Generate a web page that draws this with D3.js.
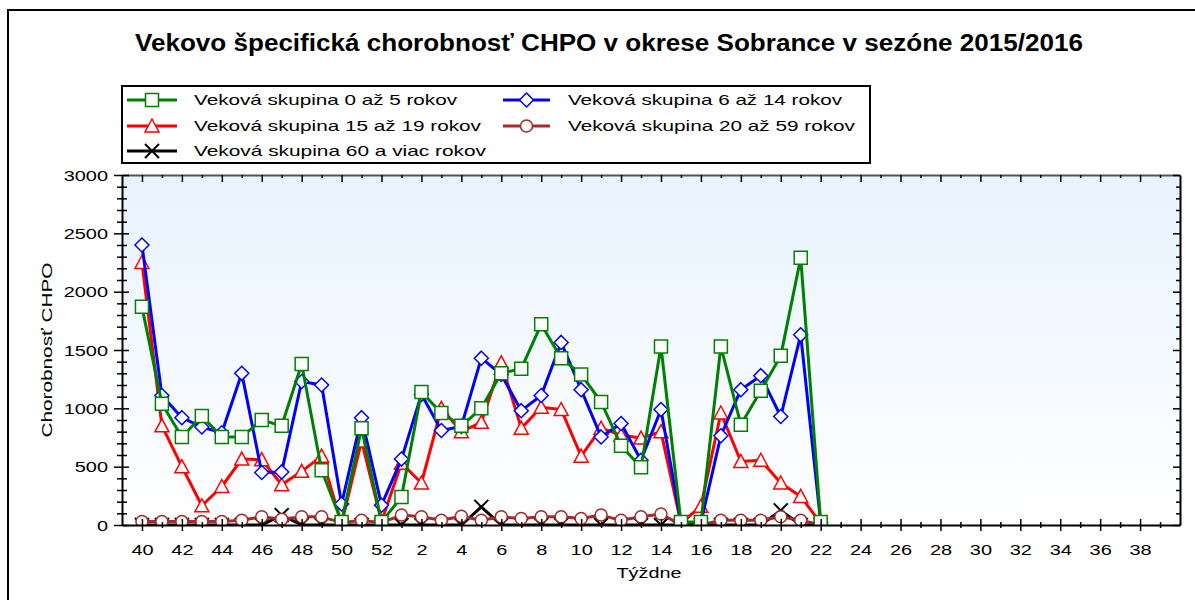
<!DOCTYPE html>
<html><head><meta charset="utf-8">
<script src="https://cdn.jsdelivr.net/npm/d3@7"></script>
<style>
body{margin:0;background:#fff}
svg{display:block}
text{font-family:"Liberation Sans",Arial,sans-serif;fill:#000}
</style></head><body>
<svg id="c" width="1195" height="600"></svg>
<script>
// ---- data ----
const weeks = [40,41,42,43,44,45,46,47,48,49,50,51,52,1,2,3,4,5,6,7,8,9,10,11,12,13,14,15,16,17,18,19,20,21,22,23,24,25,26,27,28,29,30,31,32,33,34,35,36,37,38,39];
const seriesNames = ["Veková skupina 0 až 5 rokov","Veková skupina 6 až 14 rokov","Veková skupina 15 až 19 rokov","Veková skupina 20 až 59 rokov","Veková skupina 60 a viac rokov"];
const age0_5   = [1870,1040,755,935,755,755,900,850,1380,470,25,830,25,240,1140,960,850,1000,1300,1340,1720,1430,1290,1055,680,495,1530,25,25,1530,860,1150,1450,2290,25];
const age6_14  = [2400,1110,920,840,790,1300,450,455,1230,1200,180,920,170,565,1120,810,845,1430,1290,980,1110,1565,1160,755,870,555,990,20,20,765,1160,1280,930,1630,20];
const age15_19 = [2250,850,500,165,330,565,560,345,460,590,10,720,30,530,360,1000,800,880,1390,830,1010,990,590,830,770,745,800,15,160,960,545,555,360,245,15];
const age20_59 = [30,30,30,30,30,40,70,50,70,70,20,40,20,85,70,40,75,40,70,55,70,70,55,85,40,70,95,0,0,40,40,40,70,40,0];
const age60    = [0,0,0,0,0,0,0,85,0,0,0,0,0,0,0,0,0,155,0,0,0,0,0,0,0,0,0,0,0,0,0,0,125,0,0];
const yTicks = [0,500,1000,1500,2000,2500,3000];
const titleText = "Vekovo špecifická chorobnosť CHPO v okrese Sobrance v sezóne 2015/2016";
const yTitle = "Chorobnosť CHPO";
const xTitle = "Týždne";

// ---- layout ----
const svg = d3.select("#c");
const L=122, R=1180, T=175, B=525;
const x = d3.scaleLinear().domain([-1,52]).range([L,R]);
const y = d3.scaleLinear().domain([0,3000]).range([B,T]);
const SX = 1.33;

// frame
svg.append("path").attr("d",`M8,600 V10 H1195`).attr("fill","none").attr("stroke","#000").attr("stroke-width",2);

// title
svg.append("text").attr("x",609).attr("y",51).attr("text-anchor","middle")
  .style("font-size","23px").style("font-weight","bold")
  .attr("textLength",948).attr("lengthAdjust","spacingAndGlyphs").text(titleText);

// plot background
const defs = svg.append("defs");
const gr = defs.append("linearGradient").attr("id","bg").attr("x1",0).attr("y1",0).attr("x2",0).attr("y2",1);
gr.append("stop").attr("offset","0%").attr("stop-color","#e8f3ff");
gr.append("stop").attr("offset","100%").attr("stop-color","#ffffff");
defs.append("clipPath").attr("id","plot").append("rect").attr("x",L).attr("y",T).attr("width",R-L).attr("height",B-T);
svg.append("rect").attr("x",L).attr("y",T).attr("width",R-L).attr("height",B-T).attr("fill","url(#bg)");

// markers
const mk = {
  square: "M-6.5,-6.5H6.5V6.5H-6.5Z",
  diamond: "M0,-7L7,0L0,7L-7,0Z",
  triangle: "M0,-7L7,6H-7Z",
  circle: "M-6,0A6,6 0 1,0 6,0A6,6 0 1,0 -6,0Z",
  x: "M-7,-7L7,7M-7,7L7,-7"
};
const series = [
  {name:seriesNames[0], data:age0_5,   color:"#008000", m:"square"},
  {name:seriesNames[1], data:age6_14,  color:"#0000ff", m:"diamond"},
  {name:seriesNames[2], data:age15_19, color:"#ff0000", m:"triangle"},
  {name:seriesNames[3], data:age20_59, color:"#a52a2a", m:"circle"},
  {name:seriesNames[4], data:age60,    color:"#000000", m:"x"}
];
const line = d3.line().x((d,i)=>x(i)).y(d=>y(d));
const plotG = svg.append("g").attr("clip-path","url(#plot)");
[4,3,2,1,0].forEach(k=>{
  const s = series[k];
  const g = plotG.append("g");
  g.append("path").attr("d",line(s.data)).attr("fill","none").attr("stroke",s.color).attr("stroke-width",3).attr("stroke-linejoin","round");
  g.selectAll("path.m").data(s.data).join("path").attr("class","m")
    .attr("transform",(d,i)=>`translate(${x(i)},${y(d)})`).attr("d",mk[s.m])
    .attr("fill", s.m==="x"?"none":"#fff").attr("stroke",s.color).attr("stroke-width",s.m==="x"?2:1.5);
});

// axes
const idx = d3.range(0,52);
const gx = svg.append("g").attr("transform",`translate(0,${B})`)
  .call(d3.axisBottom(x).tickValues(idx).tickSizeOuter(0).tickFormat(i=> i%2===0 ? weeks[i] : ""));
gx.selectAll(".tick line").attr("y1",i=>i%2===0?-6:-3).attr("y2",i=>i%2===0?6:3).attr("stroke-width",1.5);
gx.selectAll(".tick text").attr("y",0).attr("dy",0).attr("transform",`translate(0,30) scale(${SX},1)`).style("font-size","15px");
gx.select(".domain").attr("stroke-width",2);

const gt = svg.append("g").attr("transform",`translate(0,${T})`)
  .call(d3.axisBottom(x).tickValues(idx).tickSizeOuter(0).tickFormat(""));
gt.selectAll(".tick line").attr("y2",i=>i%2===0?7:3).attr("stroke-width",1.5);
gt.select(".domain").attr("stroke","#555").attr("stroke-width",2);

const yMinor = d3.range(0,3001,100);
const gy = svg.append("g").attr("transform",`translate(${L},0)`)
  .call(d3.axisLeft(y).tickValues(yMinor).tickSizeOuter(0).tickFormat(v=> yTicks.includes(v) ? v : ""));
gy.selectAll(".tick line").attr("x1",v=>v%500===0?-8:-5).attr("x2",v=>v%500===0?7:5).attr("stroke-width",1.5);
gy.selectAll(".tick text").attr("x",0).attr("dy","0.35em").attr("transform",`translate(-14,0) scale(${SX},1)`).style("font-size","15px");
gy.select(".domain").attr("stroke-width",2);

const gr2 = svg.append("g").attr("transform",`translate(${R},0)`)
  .call(d3.axisLeft(y).tickValues(yMinor).tickSizeOuter(0).tickFormat(""));
gr2.selectAll(".tick line").attr("x2",v=>v%500===0?-7:-4).attr("stroke-width",1.5);
gr2.select(".domain").attr("stroke-width",2);

// axis titles
svg.append("text").attr("transform","translate(52,350) rotate(-90)").attr("text-anchor","middle")
  .style("font-size","15px").attr("textLength",175).attr("lengthAdjust","spacingAndGlyphs").text(yTitle);
svg.append("text").attr("x",649).attr("y",578).attr("text-anchor","middle")
  .style("font-size","15px").attr("textLength",65).attr("lengthAdjust","spacingAndGlyphs").text(xTitle);

// legend
svg.append("rect").attr("x",122).attr("y",86).attr("width",748).attr("height",77).attr("fill","#fff").attr("stroke","#000").attr("stroke-width",2);
const lpos = [
  {x0:127,x1:177,tx:194,cy:100,tl:263},
  {x0:503,x1:550,tx:568,cy:100,tl:274},
  {x0:127,x1:177,tx:194,cy:126,tl:287},
  {x0:503,x1:550,tx:568,cy:126,tl:287},
  {x0:127,x1:177,tx:194,cy:151,tl:292}
];
series.forEach((s,k)=>{
  const p = lpos[k];
  const g = svg.append("g");
  g.append("line").attr("x1",p.x0).attr("x2",p.x1).attr("y1",p.cy).attr("y2",p.cy).attr("stroke",s.color).attr("stroke-width",3);
  g.append("path").attr("transform",`translate(${(p.x0+p.x1)/2},${p.cy})`).attr("d",mk[s.m])
    .attr("fill", s.m==="x"?"none":"#fff").attr("stroke",s.color).attr("stroke-width",s.m==="x"?2:1.5);
  g.append("text").attr("x",p.tx).attr("y",p.cy+5).style("font-size","15px")
    .attr("textLength",p.tl).attr("lengthAdjust","spacingAndGlyphs").text(s.name);
});
</script></body></html>
